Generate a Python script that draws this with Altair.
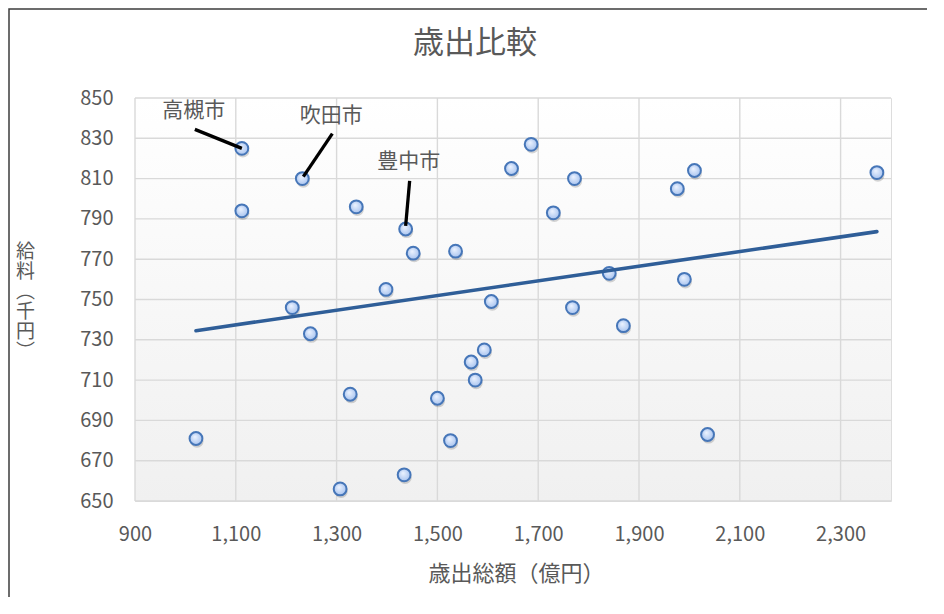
import altair as alt
import pandas as pd

# 歳出総額(億円) と 給料(千円)
x_total = [1112, 1232, 1112, 1339, 1437, 1452, 1536, 1398, 1212, 1248, 1607,
           1686, 1647, 1730, 1772, 1768, 1841, 1869, 1976, 2010, 1990, 2372,
           2036, 1021, 1327, 1500, 1526, 1307, 1434, 1567, 1593, 1575]
y_salary = [825, 810, 794, 796, 785, 773, 774, 755, 746, 733, 749,
            827, 815, 793, 810, 746, 763, 737, 805, 814, 760, 813,
            683, 681, 703, 701, 680, 656, 663, 719, 725, 710]
city = ["高槻市", "吹田市", "", "", "豊中市"] + [""] * 27

x_ticks = [900, 1100, 1300, 1500, 1700, 1900, 2100, 2300]
y_ticks = [650, 670, 690, 710, 730, 750, 770, 790, 810, 830, 850]

title_text = "歳出比較"
x_title = "歳出総額（億円）"
y_title = ["給", "料", "︵", "千", "円", "︶"]

df = pd.DataFrame({"x": x_total, "y": y_salary, "city": city})
xgrid = pd.DataFrame({"v": x_ticks})
ygrid = pd.DataFrame({"v": y_ticks})

FONT = "Noto Sans CJK JP"
GRAY = "#595959"
GRID = "#d9d9d9"
W, H = 756, 403

# callout style (pixel offsets): label dx, dy, line start offset, line end offset
callouts = {
    "高槻市": dict(dx=-48, dy=-37, sx=-47, sy=-19, ex=0, ey=0),
    "吹田市": dict(dx=29, dy=-63, sx=30, sy=-45, ex=1, ey=-2),
    "豊中市": dict(dx=3, dy=-67, sx=4, sy=-48, ex=0, ey=-3),
}

xs = alt.Scale(domain=[900, 2400], nice=False, zero=False)
ys = alt.Scale(domain=[650, 850], nice=False, zero=False)

base = alt.Chart(df)

x_enc = alt.X(
    "x:Q", scale=xs,
    axis=alt.Axis(
        values=x_ticks, format=",d", ticks=False, domain=False, grid=False,
        labelFlush=False,
        labelPadding=23, labelFontSize=20, labelColor=GRAY, labelFont=FONT,
        title=x_title, titleFontSize=22, titleColor=GRAY, titleFont=FONT,
        titleFontWeight="normal", titleX=W / 2 + 3, titleY=72,
        titleAlign="center", titleBaseline="middle",
    ),
)
y_enc = alt.Y(
    "y:Q", scale=ys,
    axis=alt.Axis(
        values=y_ticks, ticks=False, domain=False, grid=False, labelFlush=False,
        labelPadding=22, labelFontSize=20, labelColor=GRAY, labelFont=FONT,
        title=y_title, titleFontSize=19, titleColor=GRAY, titleFont=FONT,
        titleFontWeight="normal", titleAngle=0, titleX=-110, titleY=153,
        titleAlign="center", titleBaseline="middle", titleLineHeight=20,
    ),
)

one = pd.DataFrame({"k": [0]})

plot_bg = alt.Chart(one).mark_rect(
    fill={
        "gradient": "linear", "x1": 0, "y1": 0, "x2": 0, "y2": 1,
        "stops": [{"offset": 0, "color": "#ffffff"},
                  {"offset": 1, "color": "#f0f0f0"}],
    },
).encode(x=alt.value(0), x2=alt.value(W), y=alt.value(0), y2=alt.value(H))

grid_x = alt.Chart(xgrid).mark_rule(color=GRID, strokeWidth=1.4).encode(
    x=alt.X("v:Q", scale=xs), y=alt.value(0), y2=alt.value(H)
)
grid_y = alt.Chart(ygrid).mark_rule(color=GRID, strokeWidth=1.4).encode(
    y=alt.Y("v:Q", scale=ys), x=alt.value(0), x2=alt.value(W)
)

shadow = base.mark_point(
    filled=True, shape="circle", size=175, color="#000000", opacity=0.16,
    xOffset=1, yOffset=2.5,
).encode(x=x_enc, y=y_enc)

points = base.mark_point(
    filled=True, shape="circle", size=165, opacity=1,
    fill={
        "gradient": "radial", "x1": 0.4, "y1": 0.35, "r1": 0,
        "x2": 0.5, "y2": 0.5, "r2": 0.55,
        "stops": [{"offset": 0, "color": "#eef4ff"},
                  {"offset": 1, "color": "#a3c0ee"}],
    },
    stroke="#4676b8", strokeWidth=2,
).encode(x=alt.X("x:Q", scale=xs), y=alt.Y("y:Q", scale=ys))

trend = base.transform_regression("x", "y").mark_line(
    color="#2f5e98", strokeWidth=3.6, strokeCap="round"
).encode(x=alt.X("x:Q", scale=xs), y=alt.Y("y:Q", scale=ys))

callout_layers = []
for name, c in callouts.items():
    sel = base.transform_filter(alt.datum.city == name)
    callout_layers.append(
        sel.mark_rule(
            color="#000000", strokeWidth=3.3, strokeCap="butt",
            xOffset=c["sx"], yOffset=c["sy"], x2Offset=c["ex"], y2Offset=c["ey"],
        ).encode(
            x=alt.X("x:Q", scale=xs), x2="x:Q",
            y=alt.Y("y:Q", scale=ys), y2="y:Q",
        )
    )
    callout_layers.append(
        sel.mark_text(
            dx=c["dx"], dy=c["dy"], fontSize=21, font=FONT, color=GRAY,
            align="center", baseline="middle",
        ).encode(
            x=alt.X("x:Q", scale=xs), y=alt.Y("y:Q", scale=ys), text="city:N"
        )
    )

title_mark = alt.Chart(one).mark_text(
    fontSize=31, font=FONT, color=GRAY, align="center", baseline="middle"
).encode(x=alt.value(340), y=alt.value(-54), text=alt.value(title_text))

border = alt.Chart(one).mark_rect(
    filled=False, stroke="#3c3c3c", strokeWidth=1.5
).encode(x=alt.value(-126), x2=alt.value(830), y=alt.value(-89), y2=alt.value(640))

chart = alt.layer(
    plot_bg, grid_x, grid_y, shadow, points, trend, *callout_layers,
    title_mark, border
).properties(
    width=W, height=H,
    autosize=alt.AutoSizeParams(type="none"),
    padding={"left": 127, "top": 90, "right": 36, "bottom": 96},
    background="white",
).configure_view(
    strokeWidth=0,
).configure(font=FONT)

chart.save("out.html", embed_options={"renderer": "svg", "actions": False})
